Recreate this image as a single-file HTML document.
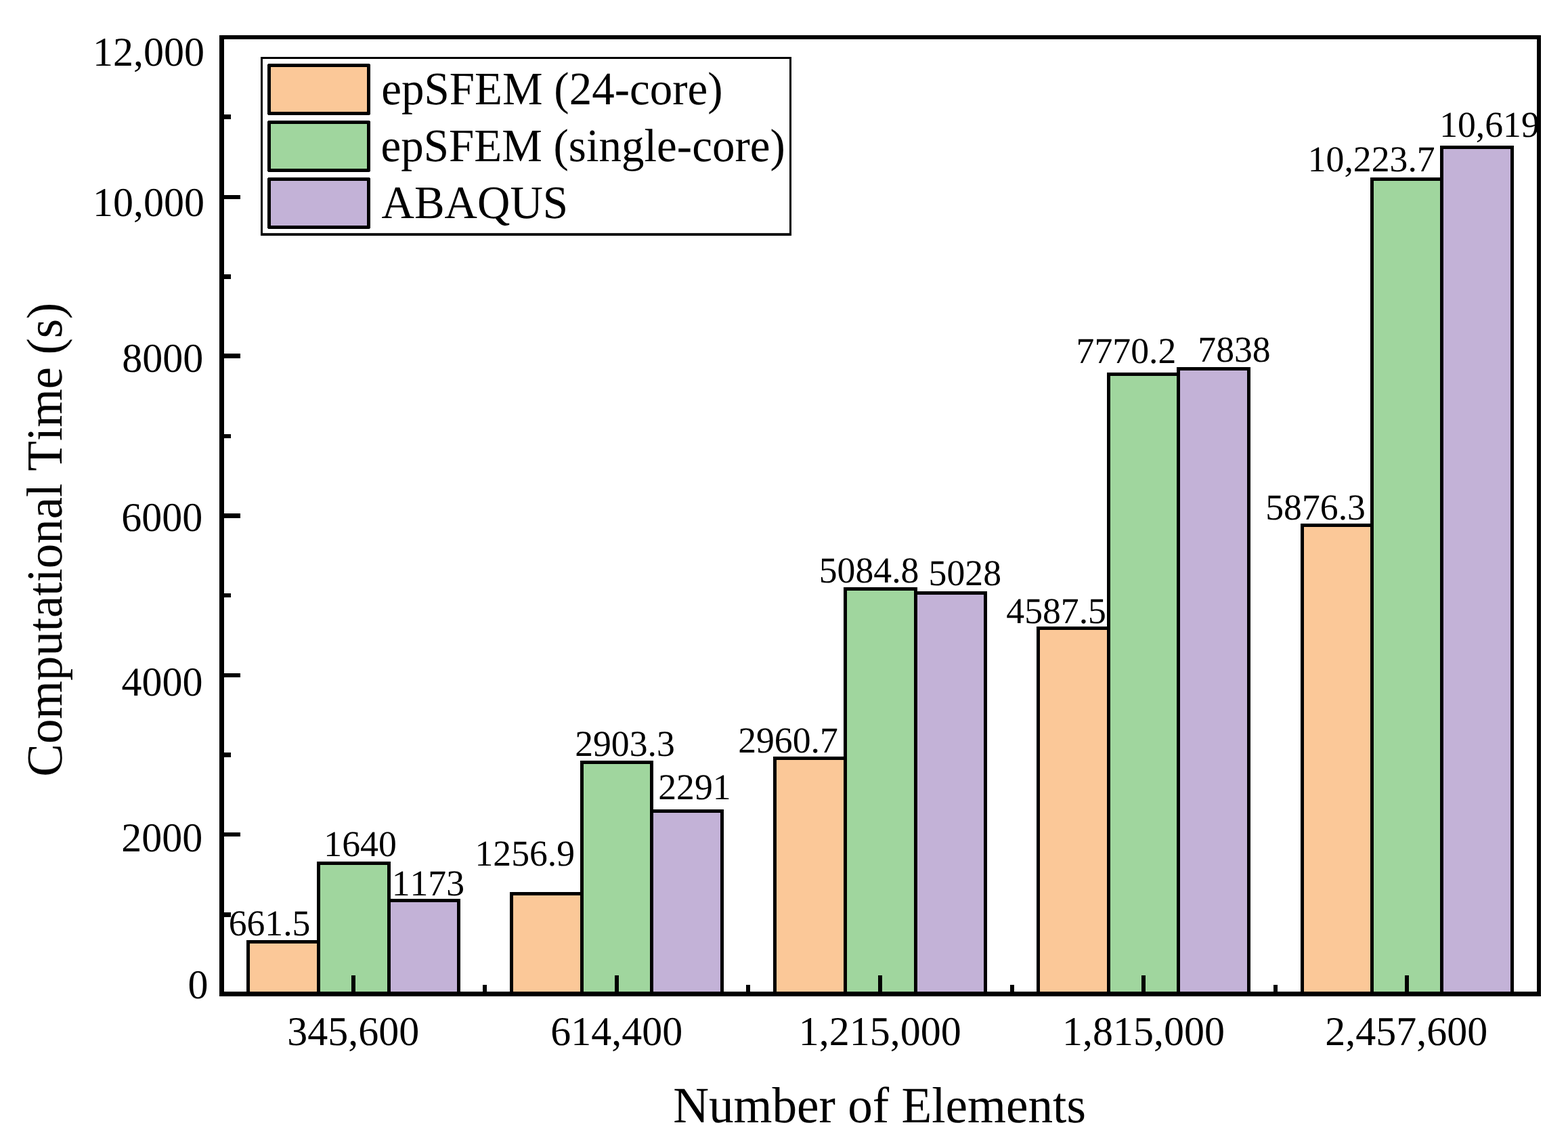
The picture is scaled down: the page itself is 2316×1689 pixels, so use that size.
<!DOCTYPE html>
<html lang="en">
<head>
<meta charset="utf-8">
<title>Computational Time vs Number of Elements</title>
<style>
html,body{margin:0;padding:0;background:#fff;}
body{width:2316px;height:1689px;overflow:hidden;}
svg{display:block;}
text{font-family:"Liberation Serif", serif;fill:#000;text-rendering:geometricPrecision;font-kerning:none;}
.tick{font-size:60px;}
.val{font-size:53.7px;}
.leg{font-size:67px;}
.ttl{font-size:73.2px;}
</style>
</head>
<body>
<svg width="2316" height="1689" viewBox="0 0 2316 1689" role="img" aria-label="Bar chart of computational time versus number of elements">
<rect x="0" y="0" width="2316" height="1689" fill="#ffffff"/>
<g id="bars" stroke="#000" stroke-width="5.00" stroke-linejoin="miter">
<rect x="366.50" y="1390.50" width="104.00" height="77.00" fill="#fbc898"/>
<rect x="470.50" y="1274.50" width="104.00" height="193.00" fill="#a0d69e"/>
<rect x="574.50" y="1329.50" width="103.00" height="138.00" fill="#c3b2d7"/>
<rect x="755.50" y="1319.50" width="104.00" height="148.00" fill="#fbc898"/>
<rect x="859.50" y="1125.50" width="103.00" height="342.00" fill="#a0d69e"/>
<rect x="962.50" y="1197.50" width="104.00" height="270.00" fill="#c3b2d7"/>
<rect x="1144.50" y="1119.50" width="104.00" height="348.00" fill="#fbc898"/>
<rect x="1248.50" y="869.50" width="104.00" height="598.00" fill="#a0d69e"/>
<rect x="1352.50" y="875.50" width="103.00" height="592.00" fill="#c3b2d7"/>
<rect x="1533.50" y="927.50" width="104.00" height="540.00" fill="#fbc898"/>
<rect x="1637.50" y="552.50" width="103.00" height="915.00" fill="#a0d69e"/>
<rect x="1740.50" y="544.50" width="104.00" height="923.00" fill="#c3b2d7"/>
<rect x="1923.50" y="775.50" width="103.00" height="692.00" fill="#fbc898"/>
<rect x="2026.50" y="264.50" width="103.00" height="1203.00" fill="#a0d69e"/>
<rect x="2129.50" y="217.50" width="104.00" height="1250.00" fill="#c3b2d7"/>
</g>
<g id="ticks" fill="#000">
<rect x="327.00" y="169.00" width="14.00" height="7.00" fill="#000"/>
<rect x="327.00" y="288.00" width="28.00" height="6.00" fill="#000"/>
<rect x="327.00" y="405.00" width="14.00" height="7.00" fill="#000"/>
<rect x="327.00" y="522.00" width="28.00" height="7.00" fill="#000"/>
<rect x="327.00" y="641.00" width="14.00" height="6.00" fill="#000"/>
<rect x="327.00" y="758.00" width="28.00" height="7.00" fill="#000"/>
<rect x="327.00" y="876.00" width="14.00" height="6.00" fill="#000"/>
<rect x="327.00" y="994.00" width="28.00" height="6.00" fill="#000"/>
<rect x="327.00" y="1111.00" width="14.00" height="7.00" fill="#000"/>
<rect x="327.00" y="1229.00" width="28.00" height="6.00" fill="#000"/>
<rect x="327.00" y="1347.00" width="14.00" height="7.00" fill="#000"/>
<rect x="519.00" y="1440.00" width="6.00" height="28.00" fill="#000"/>
<rect x="908.00" y="1440.00" width="6.00" height="28.00" fill="#000"/>
<rect x="1297.00" y="1440.00" width="6.00" height="28.00" fill="#000"/>
<rect x="1686.00" y="1440.00" width="6.00" height="28.00" fill="#000"/>
<rect x="2075.00" y="1440.00" width="6.00" height="28.00" fill="#000"/>
<rect x="713.00" y="1454.00" width="6.00" height="14.00" fill="#000"/>
<rect x="1102.00" y="1454.00" width="6.00" height="14.00" fill="#000"/>
<rect x="1492.00" y="1454.00" width="6.00" height="14.00" fill="#000"/>
<rect x="1881.00" y="1454.00" width="6.00" height="14.00" fill="#000"/>
</g>
<g id="frame" fill="#000">
<rect x="324.00" y="52.00" width="7.00" height="1419.00" fill="#000"/>
<rect x="2270.00" y="52.00" width="6.00" height="1419.00" fill="#000"/>
<rect x="324.00" y="52.00" width="1952.00" height="6.00" fill="#000"/>
<rect x="324.00" y="1464.00" width="1952.00" height="7.00" fill="#000"/>
</g>
<g id="legend">
<rect x="385" y="84" width="784" height="264" fill="#000"/>
<rect x="388" y="87" width="778" height="257.2" fill="#fff"/>
<path d="M396 94H546V95H547V169H546V170H396V169H395V95H396Z" fill="#000"/>
<rect x="400" y="99" width="142" height="66" fill="#fbc898"/>
<path d="M396 178H546V179H547V253H546V254H396V253H395V179H396Z" fill="#000"/>
<rect x="400" y="183" width="142" height="66" fill="#a0d69e"/>
<path d="M396 262H546V263H547V337H546V338H396V337H395V263H396Z" fill="#000"/>
<rect x="400" y="267" width="142" height="66" fill="#c3b2d7"/>
</g>
<g id="labels">
<text class="tick" transform="translate(136.96 97.25) scale(1 1.0100)">12,000</text>
<text class="tick" transform="translate(136.96 319.30) scale(1 1.0100)">10,000</text>
<text class="tick" transform="translate(180.35 549.30) scale(1 1.0100)">8000</text>
<text class="tick" transform="translate(179.30 784.15) scale(1 1.0100)">6000</text>
<text class="tick" transform="translate(179.51 1027.30) scale(1 1.0100)">4000</text>
<text class="tick" transform="translate(179.27 1257.10) scale(1 1.0100)">2000</text>
<text class="tick" transform="translate(277.45 1474.15) scale(1 1.0100)">0</text>
<text class="tick" transform="translate(424.16 1543.30) scale(1 1.0100)">345,600</text>
<text class="tick" transform="translate(813.35 1543.40) scale(1 1.0100)">614,400</text>
<text class="tick" transform="translate(1179.81 1543.35) scale(1 1.0100)">1,215,000</text>
<text class="tick" transform="translate(1569.01 1543.35) scale(1 1.0100)">1,815,000</text>
<text class="tick" transform="translate(1957.32 1543.35) scale(1 1.0100)">2,457,600</text>
<text class="val" transform="translate(337.63 1380.90) scale(1 1.0050)">661.5</text>
<text class="val" transform="translate(478.36 1263.58) scale(1 1.0050)">1640</text>
<text class="val" transform="translate(578.64 1321.60) scale(1 1.0050)">1173</text>
<text class="val" transform="translate(701.45 1277.60) scale(1 1.0050)">1256.9</text>
<text class="val" transform="translate(849.18 1115.78) scale(1 1.0050)">2903.3</text>
<text class="val" transform="translate(972.23 1179.65) scale(1 1.0050)">2291</text>
<text class="val" transform="translate(1090.16 1110.88) scale(1 1.0050)">2960.7</text>
<text class="val" transform="translate(1209.77 859.58) scale(1 1.0050)">5084.8</text>
<text class="val" transform="translate(1371.61 864.43) scale(1 1.0050)">5028</text>
<text class="val" transform="translate(1486.29 919.53) scale(1 1.0050)">4587.5</text>
<text class="val" transform="translate(1589.62 536.48) scale(1 1.0050)">7770.2</text>
<text class="val" transform="translate(1769.30 534.43) scale(1 1.0050)">7838</text>
<text class="val" transform="translate(1869.25 766.83) scale(1 1.0050)">5876.3</text>
<text class="val" transform="translate(1931.74 252.98) scale(1 1.0050)">10,223.7</text>
<text class="val" transform="translate(2126.15 201.78) scale(1 1.0050)">10,619</text>
<text class="leg" transform="translate(563.35 154.40) scale(1 1.0250)">epSFEM (24-core)</text>
<text class="leg" transform="translate(562.48 238.40) scale(1 1.0250)">epSFEM (single-core)</text>
<text class="leg" transform="translate(563.55 322.00) scale(1 1.0250)">ABAQUS</text>
<text class="ttl" transform="translate(994.15 1657.00) scale(1 1.0250)">Number of Elements</text>
<text class="ttl" style="font-size:72.85px" transform="translate(90.60 1146.71) rotate(-90) scale(1 1.0250)">Computational Time (s)</text>
</g>
</svg>
</body>
</html>
